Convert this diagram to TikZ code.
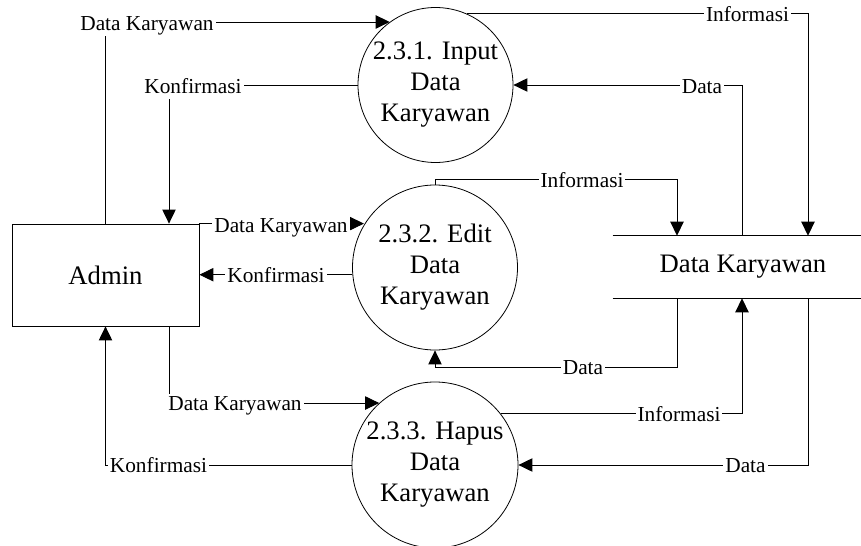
\documentclass[tikz,border=0pt]{standalone}
\usepackage{fontspec}
\setmainfont{Liberation Serif}
\usetikzlibrary{arrows.meta,positioning,calc}
\tikzset{
	>=Triangle,
	process/.style={
		circle,
		draw,
		line width=0.6pt,
		inner sep=0pt,
		align=center,
		font=\fontsize{20}{23.25}\selectfont
	},
	entity/.style={
		draw,
		line width=0.6pt,
		minimum width=140.25pt,
		minimum height=76.5pt,
		font=\fontsize{20}{24}\selectfont
	},
	datastore/.style={
		minimum width=186pt,
		minimum height=46.5pt
	},
	flowlabel/.style={
		fill=white,
		inner xsep=1.5pt,
		inner ysep=1pt,
		anchor=base,
		yshift=-5.3pt,
		text height=11.2pt,
		text depth=3.5pt,
		font=\fontsize{16}{19}\selectfont
	},
	conn/.style={
		-{Triangle[length=10.5pt,width=10pt]},
		line width=0.7pt
	},
	plain/.style={
		line width=0.7pt
	}
}

\begin{document}
\begin{tikzpicture}[x=0.75pt,y=-0.75pt]
	\useasboundingbox (0,0) rectangle (861,546);
	
	% Nodes
	\node[entity] (admin) at (105.5,275) {Admin};
	\node[process,minimum size=116.25pt] (p1) at (435.5,85) {2.3.1. Input\\Data\\Karyawan};
	\node[process,minimum size=123.75pt] (p2) at (435,267.5) {2.3.2. Edit\\Data\\Karyawan};
	\node[process,minimum size=124.5pt] (p3) at (435,465) {2.3.3. Hapus\\Data\\Karyawan};
	\node[datastore,label={[font=\fontsize{20}{24}\selectfont,xshift=4.5pt]center:Data Karyawan}] (store) at (737,267) {};
	\draw[plain] (store.north west) -- (store.north east);
	\draw[plain] (store.south west) -- (store.south east);
	
	% Connections
	\draw[conn] (admin.north) |- (p1.126);
	\draw[conn] (p1.west) -| ($(admin.north)+(63.5,0)$);
	\draw[conn] (p1.66) -| ($(store.north)+(71,0)$);
	\draw[conn] ($(store.north)+(5,0)$) |- (p1.east);
	
	\draw[conn] (admin.north east) -- (admin.north east -| p2.149);
	\draw[conn] (p2.185) -- (p2.185 -| admin.east);
	\draw[conn] (p2.north) -- ++(0,-5) -| ($(store.north)+(-60,0)$);
	\draw[conn] ($(store.south)+(-60,0)$) -- ++(0,69) -| (p2.south);
	
	\draw[conn] ($(admin.south)+(63.5,0)$) |- (p3.132);
	\draw[conn] (p3.west) -| (admin.south);
	\draw[conn] (p3.38) -| ($(store.south)+(5,0)$);
	\draw[conn] ($(store.south)+(71,0)$) |- (p3.east);
	
	% Labels
	\node[flowlabel] (l1) at (147,23) {Data Karyawan};
	\node[flowlabel] (l2) at (193,86) {Konfirmasi};
	\node[flowlabel] (l3) at (747.5,14) {Informasi};
	\node[flowlabel] (l4) at (702,86) {Data};
	\node[flowlabel] (l5) at (582,180) {Informasi};
	\node[flowlabel] (l6) at (281,225) {Data Karyawan};
	\node[flowlabel] (l7) at (276,275) {Konfirmasi};
	\node[flowlabel] (l8) at (583,367) {Data};
	\node[flowlabel] (l9) at (235,403) {Data Karyawan};
	\node[flowlabel] (l10) at (158.5,465) {Konfirmasi};
	\node[flowlabel] (l11) at (679,414) {Informasi};
	\node[flowlabel] (l12) at (745.5,465) {Data};
	
\end{tikzpicture}
\end{document}
